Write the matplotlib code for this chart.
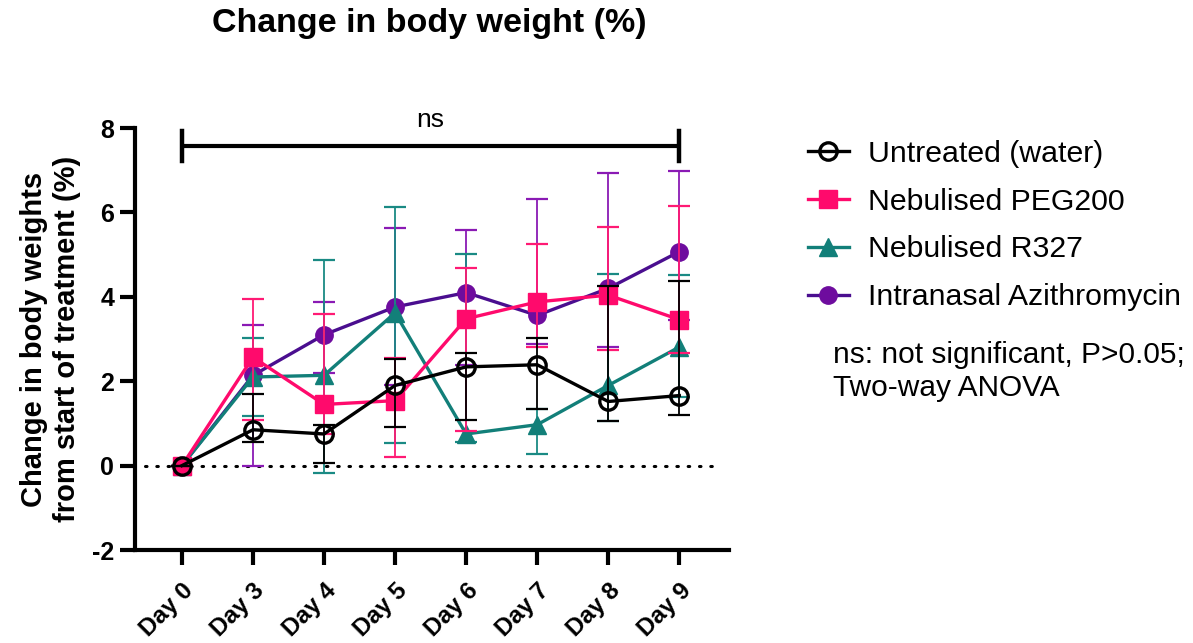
import numpy as np
import matplotlib
matplotlib.use("Agg")
import matplotlib.pyplot as plt

plt.rcParams["font.family"] = ["Liberation Sans", "DejaVu Sans"]

days = ["Day 0", "Day 3", "Day 4", "Day 5", "Day 6", "Day 7", "Day 8", "Day 9"]

# group means with lower / upper ends of the error bars (% change)
untreated = [0, 0.85, 0.75, 1.90, 2.34, 2.39, 1.52, 1.66]
untreated_lo = [0, 0.55, 0.07, 0.91, 1.09, 1.34, 1.05, 1.19]
untreated_hi = [0, 1.69, 0.97, 2.53, 2.67, 3.03, 4.26, 4.38]

peg = [0, 2.57, 1.45, 1.54, 3.48, 3.88, 4.04, 3.46]
peg_lo = [0, 1.09, 0.75, 0.20, 0.83, 2.81, 2.75, 2.68]
peg_hi = [0, 3.94, 3.59, 2.56, 4.69, 5.25, 5.65, 6.16]

r327 = [0, 2.10, 2.14, 3.62, 0.75, 0.97, 1.90, 2.81]
r327_lo = [0, 1.18, -0.18, 0.54, 0.55, 0.28, 1.05, 1.62]
r327_hi = [0, 3.02, 4.87, 6.12, 5.01, 1.35, 4.53, 4.51]

azithro = [0, 2.14, 3.10, 3.76, 4.10, 3.56, 4.20, 5.07]
azithro_lo = [0, -0.02, 2.20, 1.90, 2.39, 2.89, 2.81, 3.45]
azithro_hi = [0, 3.33, 3.88, 5.62, 5.58, 6.32, 6.93, 6.99]

fig = plt.figure(figsize=(11.93, 6.43), dpi=100)
ax = fig.add_axes([0.1132, 0.1446, 0.4979, 0.6563])

x = np.arange(len(days))

series = [
    # label, mean, lo, hi, marker, line colour, marker colour, bar colour, z
    ("Intranasal Azithromycin", azithro, azithro_lo, azithro_hi, "o",
     "#4a0e8f", "#6e0c9e", "#8a1ab4", 2),
    ("Nebulised R327", r327, r327_lo, r327_hi, "^",
     "#127f79", "#127f79", "#1a8a84", 3),
    ("Nebulised PEG200", peg, peg_lo, peg_hi, "s",
     "#ff0a6c", "#ff0a6c", "#ff1a74", 4),
    ("Untreated (water)", untreated, untreated_lo, untreated_hi, "o",
     "black", "none", "black", 5),
]

handles = {}
for label, m, lo, hi, mk, lc, mc, ec, z in series:
    m = np.array(m)
    yerr = [m - np.array(lo), np.array(hi) - m]
    ax.errorbar(x, m, yerr=yerr, fmt="none", ecolor=ec, elinewidth=1.3,
                capsize=8, capthick=1.6, zorder=z)
    msize = 13.5 if mk == "^" else 12.5
    if mc == "none":
        h, = ax.plot(x, m, color=lc, lw=2.4, marker=mk, ms=msize,
                     mfc="none", mec=lc, mew=2.4, zorder=z + 0.5,
                     label=label)
    else:
        h, = ax.plot(x, m, color=lc, lw=2.4, marker=mk, ms=msize,
                     mfc=mc, mec=mc, zorder=z + 0.5, label=label)
    handles[label] = h

# dotted zero line
ax.plot([-0.52, 7.54], [0, 0], ls=(0, (0.5, 3.2)), color="black", lw=2.2,
        dash_capstyle="round", zorder=1)

# significance bracket between first and last day
ax.plot([0, 7], [7.58, 7.58], color="black", lw=3, clip_on=False,
        solid_capstyle="butt")
ax.plot([0, 0], [7.23, 7.94], color="black", lw=3.2, clip_on=False)
ax.plot([7, 7], [7.23, 7.94], color="black", lw=3.2, clip_on=False)
ax.text(3.5, 7.9, "ns", ha="center", va="bottom", fontsize=19,
        clip_on=False)

ax.set_xlim(-0.66, 7.70)
ax.set_ylim(-2, 8)
ax.set_yticks([-2, 0, 2, 4, 6, 8])
ax.set_yticklabels(["-2", "0", "2", "4", "6", "8"], fontsize=18,
                   fontweight="bold")
ax.set_xticks(x)
ax.set_xticklabels(days, fontsize=17.5, fontweight="bold", rotation=45,
                   ha="right", va="top", rotation_mode="anchor")
ax.tick_params(axis="both", length=11, width=3, pad=4)
ax.tick_params(axis="x", pad=10)
for side in ("top", "right"):
    ax.spines[side].set_visible(False)
for side in ("left", "bottom"):
    ax.spines[side].set_linewidth(3)

ax.set_ylabel("Change in body weights\nfrom start of treatment (%)",
              fontsize=21, fontweight="bold", labelpad=8, linespacing=1.2)

fig.text(0.36, 0.963, "Change in body weight (%)", ha="center", va="center",
         fontsize=24.5, fontweight="bold")

order = ["Untreated (water)", "Nebulised PEG200", "Nebulised R327",
         "Intranasal Azithromycin"]
fig.legend([handles[k] for k in order], order, loc="upper left",
           bbox_to_anchor=(0.677, 0.783), frameon=False, fontsize=21.8,
           handlelength=1.35, handletextpad=0.65, labelspacing=0.66,
           borderpad=0, borderaxespad=0)

fig.text(0.698, 0.422, "ns: not significant, P>0.05;\nTwo-way ANOVA",
         ha="left", va="center", fontsize=21.5, linespacing=1.2)

fig.savefig("out.png", dpi=100)
